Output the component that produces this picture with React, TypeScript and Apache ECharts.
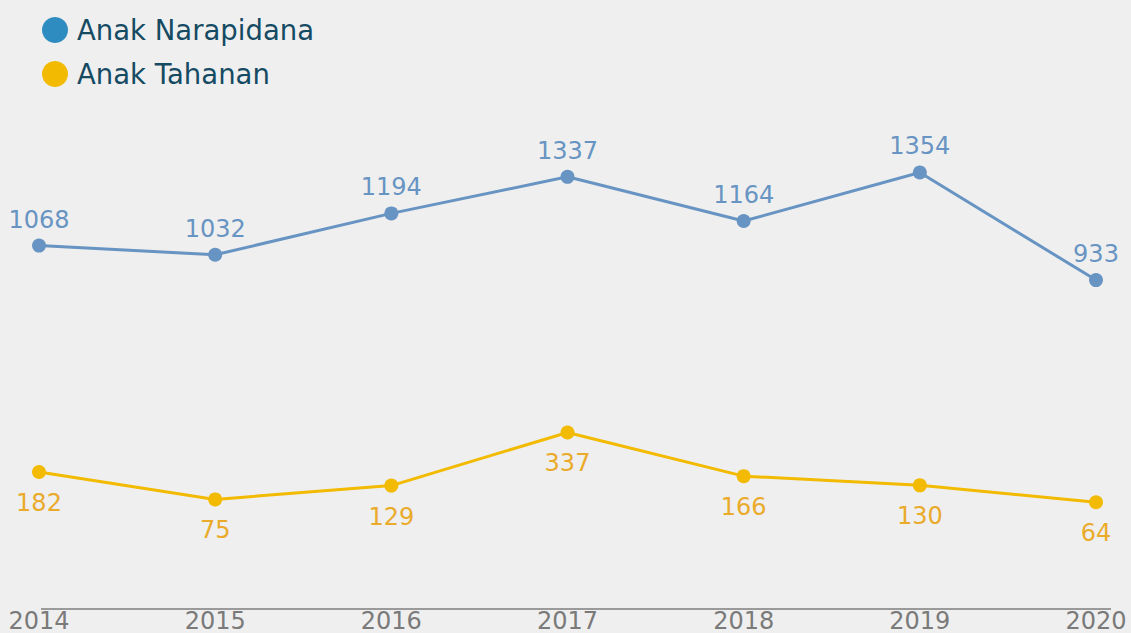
import React, { useEffect, useRef } from "react";
import * as echarts from "echarts";

const years = ["2014", "2015", "2016", "2017", "2018", "2019", "2020"];
const narapidana = [1068, 1032, 1194, 1337, 1164, 1354, 933];
const tahanan = [182, 75, 129, 337, 166, 130, 64];
const seriesNames = ["Anak Narapidana", "Anak Tahanan"];

const FONT = "'DejaVu Sans', sans-serif";

export default function App() {
  const ref = useRef<HTMLDivElement>(null);
  useEffect(() => {
    if (!ref.current) return;
    const chart = echarts.init(ref.current, undefined, { renderer: "svg" });
    chart.setOption({
      animation: false,
      backgroundColor: "#efefef",
      textStyle: { fontFamily: FONT },
      legend: {
        orient: "vertical",
        left: 37,
        top: 11,
        itemGap: 16,
        itemWidth: 26,
        itemHeight: 26,
        icon: "circle",
        data: [
          { name: seriesNames[0], itemStyle: { color: "#2e8cc0" } },
          { name: seriesNames[1], itemStyle: { color: "#f2ba00" } },
        ],
        textStyle: { color: "#154a63", fontSize: 27.5, fontFamily: FONT, padding: [0, 0, 0, 4] },
      },
      grid: { left: 39, right: 35, top: 105, bottom: 25, containLabel: false },
      xAxis: {
        type: "category",
        data: years,
        boundaryGap: false,
        axisLine: { show: false },
        axisTick: { show: false },
        axisLabel: { color: "#7a7a7a", fontSize: 24, margin: 3, fontFamily: FONT },
      },
      yAxis: {
        type: "value",
        min: -342,
        max: 1618,
        show: false,
        splitLine: { show: false },
      },
      graphic: [
        {
          type: "line",
          shape: { x1: 41, y1: 609, x2: 1111, y2: 609 },
          style: { stroke: "#9a9a9a", lineWidth: 2 },
          silent: true,
        },
      ],
      series: [
        {
          name: seriesNames[0],
          type: "line",
          data: narapidana,
          symbol: "circle",
          symbolSize: 14,
          lineStyle: { color: "#6794c2", width: 3 },
          itemStyle: { color: "#6794c2" },
          label: {
            show: true,
            position: "top",
            distance: 7,
            color: "#6794c2",
            fontSize: 24,
            fontFamily: FONT,
          },
        },
        {
          name: seriesNames[1],
          type: "line",
          data: tahanan,
          symbol: "circle",
          symbolSize: 14,
          lineStyle: { color: "#f2ba00", width: 3 },
          itemStyle: { color: "#f2ba00" },
          label: {
            show: true,
            position: "bottom",
            distance: 12,
            color: "#eaaa2a",
            fontSize: 24,
            fontFamily: FONT,
          },
        },
      ],
    });
    return () => chart.dispose();
  }, []);
  return (
    <div
      ref={ref}
      style={{ width: 1131, height: 633, position: "absolute", left: 0, top: 0 }}
    />
  );
}
